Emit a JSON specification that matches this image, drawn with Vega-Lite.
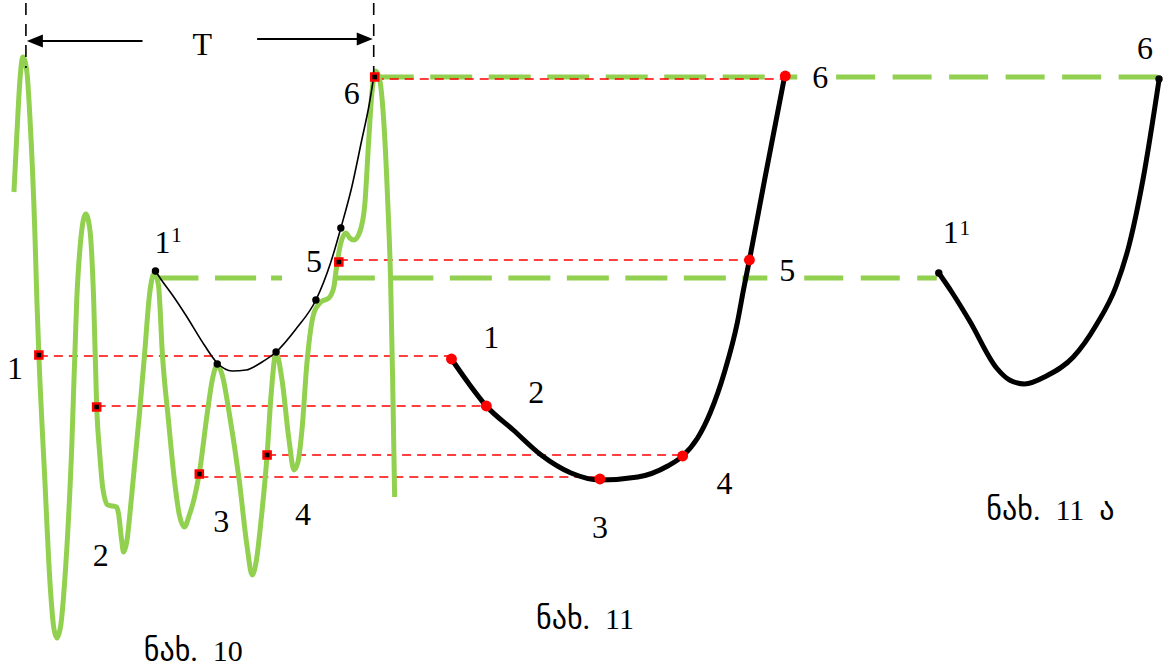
{
  "$schema": "https://vega.github.io/schema/vega-lite/v6.json",
  "width": 1169,
  "height": 671,
  "padding": 0,
  "autosize": {"type": "fit", "contains": "padding"},
  "background": "white",
  "config": {"view": {"stroke": null}},
  "datasets": {
    "gdashA": [
      {"x": 373, "x2": 800, "y": 77},
      {"x": 157, "x2": 257, "y": 278},
      {"x": 334, "x2": 770, "y": 278}
    ],
    "gdashB": [
      {"x": 839, "x2": 1163, "y": 77},
      {"x": 807, "x2": 940, "y": 278}
    ],
    "gsolid": [
      {"x": 272, "x2": 283, "y": 278}
    ],
    "rdash": [
      {"x": 39, "x2": 452, "y": 356},
      {"x": 97, "x2": 487, "y": 406},
      {"x": 200, "x2": 601, "y": 477},
      {"x": 268, "x2": 685, "y": 455},
      {"x": 340, "x2": 752, "y": 260},
      {"x": 376, "x2": 788, "y": 79}
    ],
    "wave": [
      {"x": 14, "y": 192}, {"x": 17, "y": 133}, {"x": 20, "y": 80}, {"x": 23, "y": 57}, {"x": 27, "y": 72},
      {"x": 30, "y": 117}, {"x": 35, "y": 233}, {"x": 37, "y": 300}, {"x": 39, "y": 355}, {"x": 45, "y": 480},
      {"x": 50, "y": 580}, {"x": 54, "y": 628}, {"x": 57, "y": 638}, {"x": 61, "y": 625}, {"x": 65, "y": 580},
      {"x": 72, "y": 447}, {"x": 77, "y": 300}, {"x": 81, "y": 240}, {"x": 86, "y": 214}, {"x": 90, "y": 228},
      {"x": 94, "y": 300}, {"x": 97, "y": 407}, {"x": 100, "y": 453}, {"x": 103, "y": 487}, {"x": 108, "y": 505},
      {"x": 113, "y": 506}, {"x": 117, "y": 507}, {"x": 119, "y": 514}, {"x": 122, "y": 540}, {"x": 124, "y": 552},
      {"x": 127, "y": 543}, {"x": 132, "y": 497}, {"x": 140, "y": 413}, {"x": 145, "y": 355}, {"x": 150, "y": 295},
      {"x": 155, "y": 273}, {"x": 159, "y": 285}, {"x": 163, "y": 355}, {"x": 169, "y": 420}, {"x": 175, "y": 480},
      {"x": 180, "y": 515}, {"x": 185, "y": 527}, {"x": 190, "y": 515}, {"x": 195, "y": 498}, {"x": 200, "y": 473},
      {"x": 208, "y": 413}, {"x": 213, "y": 380}, {"x": 218, "y": 365}, {"x": 223, "y": 375}, {"x": 230, "y": 413},
      {"x": 240, "y": 480}, {"x": 248, "y": 547}, {"x": 253, "y": 575}, {"x": 257, "y": 562}, {"x": 262, "y": 520},
      {"x": 268, "y": 455}, {"x": 272, "y": 395}, {"x": 277, "y": 353}, {"x": 283, "y": 380}, {"x": 290, "y": 440},
      {"x": 295, "y": 470}, {"x": 299, "y": 462}, {"x": 303, "y": 430}, {"x": 308, "y": 363}, {"x": 315, "y": 313},
      {"x": 322, "y": 302}, {"x": 330, "y": 298}, {"x": 335, "y": 287}, {"x": 338, "y": 265}, {"x": 342, "y": 243},
      {"x": 347, "y": 233}, {"x": 351, "y": 238}, {"x": 355, "y": 240}, {"x": 361, "y": 232}, {"x": 366, "y": 205},
      {"x": 370, "y": 140}, {"x": 373, "y": 95}, {"x": 377, "y": 71}, {"x": 381, "y": 80}, {"x": 385, "y": 120},
      {"x": 389, "y": 200}, {"x": 392, "y": 283}, {"x": 394, "y": 380}, {"x": 396, "y": 497}
    ],
    "curves": [
      {"s": "a", "x": 156, "y": 271}, {"s": "a", "x": 162, "y": 280}, {"s": "a", "x": 173, "y": 295},
      {"s": "a", "x": 187, "y": 316}, {"s": "a", "x": 205, "y": 345}, {"s": "a", "x": 218, "y": 363},
      {"s": "a", "x": 233, "y": 371}, {"s": "a", "x": 247, "y": 370}, {"s": "a", "x": 263, "y": 362},
      {"s": "a", "x": 277, "y": 352}, {"s": "a", "x": 297, "y": 329}, {"s": "a", "x": 317, "y": 300},
      {"s": "a", "x": 332, "y": 262}, {"s": "a", "x": 342, "y": 228}, {"s": "a", "x": 353, "y": 187},
      {"s": "a", "x": 363, "y": 140}, {"s": "a", "x": 370, "y": 107}, {"s": "a", "x": 375, "y": 77}
    ],
    "thick": [
      {"s": "b", "x": 453, "y": 359}, {"s": "b", "x": 470, "y": 383}, {"s": "b", "x": 488, "y": 406},
      {"s": "b", "x": 515, "y": 430}, {"s": "b", "x": 543, "y": 455}, {"s": "b", "x": 573, "y": 473},
      {"s": "b", "x": 602, "y": 480}, {"s": "b", "x": 640, "y": 477}, {"s": "b", "x": 670, "y": 466},
      {"s": "b", "x": 685, "y": 456}, {"s": "b", "x": 700, "y": 438}, {"s": "b", "x": 713, "y": 412},
      {"s": "b", "x": 727, "y": 372}, {"s": "b", "x": 740, "y": 322}, {"s": "b", "x": 746, "y": 290},
      {"s": "b", "x": 752, "y": 260}, {"s": "b", "x": 767, "y": 181}, {"s": "b", "x": 787, "y": 78},
      {"s": "c", "x": 942, "y": 273}, {"s": "c", "x": 955, "y": 292}, {"s": "c", "x": 973, "y": 321},
      {"s": "c", "x": 1000, "y": 368}, {"s": "c", "x": 1013, "y": 380}, {"s": "c", "x": 1028, "y": 384},
      {"s": "c", "x": 1050, "y": 376}, {"s": "c", "x": 1077, "y": 357}, {"s": "c", "x": 1100, "y": 325},
      {"s": "c", "x": 1120, "y": 286}, {"s": "c", "x": 1133, "y": 245}, {"s": "c", "x": 1147, "y": 179},
      {"s": "c", "x": 1163, "y": 80}
    ],
    "vdash": [
      {"x": 26, "y": 3, "y2": 68},
      {"x": 375, "y": 3, "y2": 76}
    ],
    "arrowline": [
      {"x": 30, "x2": 143, "y": 41},
      {"x": 258, "x2": 370, "y": 39}
    ],
    "arrowheads": [
      {"x": 35, "y": 41, "dir": "left"},
      {"x": 366, "y": 39, "dir": "right"}
    ],
    "redsq": [
      {"x": 39, "y": 355}, {"x": 97, "y": 407}, {"x": 200, "y": 474},
      {"x": 268, "y": 455}, {"x": 340, "y": 262}, {"x": 376, "y": 77}
    ],
    "blackdots": [
      {"x": 156, "y": 271}, {"x": 218, "y": 364}, {"x": 277, "y": 352},
      {"x": 317, "y": 300}, {"x": 342, "y": 228}, {"x": 942, "y": 273}, {"x": 1163, "y": 79}
    ],
    "reddots": [
      {"x": 453, "y": 359}, {"x": 488, "y": 406}, {"x": 602, "y": 479},
      {"x": 685, "y": 456}, {"x": 752, "y": 260}, {"x": 788, "y": 76}
    ],
    "labels": [
      {"x": 203, "y": 45, "t": "T"},
      {"x": 15, "y": 369, "t": "1"},
      {"x": 101, "y": 556, "t": "2"},
      {"x": 222, "y": 522, "t": "3"},
      {"x": 304, "y": 515, "t": "4"},
      {"x": 315, "y": 262, "t": "5"},
      {"x": 353, "y": 94, "t": "6"},
      {"x": 163, "y": 243, "t": "1"},
      {"x": 493, "y": 338, "t": "1"},
      {"x": 538, "y": 393, "t": "2"},
      {"x": 602, "y": 528, "t": "3"},
      {"x": 727, "y": 484, "t": "4"},
      {"x": 790, "y": 271, "t": "5"},
      {"x": 823, "y": 78, "t": "6"},
      {"x": 954, "y": 233, "t": "1"},
      {"x": 1149, "y": 49, "t": "6"}
    ],
    "sups": [
      {"x": 177, "y": 236, "t": "1"},
      {"x": 968, "y": 229, "t": "1"}
    ],
    "captions": [
      {"x": 194, "y": 652, "t": "ნახ.\u00a0\u00a010"},
      {"x": 587, "y": 620, "t": "ნახ.\u00a0\u00a011"},
      {"x": 1054, "y": 511, "t": "ნახ.\u00a0\u00a011\u00a0\u00a0ა"}
    ]
  },
  "encoding": {
    "x": {"field": "x", "type": "quantitative", "scale": {"domain": [0, 1169], "nice": false, "zero": false}, "axis": null},
    "y": {"field": "y", "type": "quantitative", "scale": {"domain": [0, 671], "nice": false, "zero": false, "reverse": true}, "axis": null}
  },
  "layer": [
    {
      "data": {"name": "gdashA"},
      "mark": {"type": "rule", "color": "#92d050", "strokeWidth": 5, "strokeDash": [42, 16.5]},
      "encoding": {"x2": {"field": "x2"}}
    },
    {
      "data": {"name": "gdashB"},
      "mark": {"type": "rule", "color": "#92d050", "strokeWidth": 5, "strokeDash": [39, 17.5]},
      "encoding": {"x2": {"field": "x2"}}
    },
    {
      "data": {"name": "gsolid"},
      "mark": {"type": "rule", "color": "#92d050", "strokeWidth": 5},
      "encoding": {"x2": {"field": "x2"}}
    },
    {
      "data": {"name": "rdash"},
      "mark": {"type": "rule", "color": "#ff0000", "strokeWidth": 1.5, "strokeDash": [9, 6]},
      "encoding": {"x2": {"field": "x2"}}
    },
    {
      "data": {"name": "wave"},
      "mark": {"type": "line", "color": "#92d050", "strokeWidth": 5, "interpolate": "monotone"},
      "encoding": {}
    },
    {
      "data": {"name": "curves"},
      "mark": {"type": "line", "color": "black", "strokeWidth": 1.6, "interpolate": "monotone"},
      "encoding": {"detail": {"field": "s"}}
    },
    {
      "data": {"name": "thick"},
      "mark": {"type": "line", "color": "black", "strokeWidth": 5, "interpolate": "monotone"},
      "encoding": {"detail": {"field": "s"}}
    },
    {
      "data": {"name": "vdash"},
      "mark": {"type": "rule", "color": "black", "strokeWidth": 1.6, "strokeDash": [12, 9]},
      "encoding": {"y2": {"field": "y2"}}
    },
    {
      "data": {"name": "arrowline"},
      "mark": {"type": "rule", "color": "black", "strokeWidth": 2.2},
      "encoding": {"x2": {"field": "x2"}}
    },
    {
      "data": {"name": "arrowheads"},
      "transform": [{"filter": "datum.dir === 'left'"}],
      "mark": {"type": "point", "shape": "M -1 0 L 1 -0.8 L 1 0.8 Z", "size": 256, "filled": true, "color": "black", "opacity": 1}
    },
    {
      "data": {"name": "arrowheads"},
      "transform": [{"filter": "datum.dir === 'right'"}],
      "mark": {"type": "point", "shape": "M 1 0 L -1 -0.8 L -1 0.8 Z", "size": 256, "filled": true, "color": "black", "opacity": 1}
    },
    {
      "data": {"name": "redsq"},
      "mark": {"type": "point", "shape": "square", "size": 50, "filled": true, "fill": "black", "stroke": "#ff0000", "strokeWidth": 2.5, "opacity": 1}
    },
    {
      "data": {"name": "blackdots"},
      "mark": {"type": "point", "shape": "circle", "size": 55, "filled": true, "color": "black", "opacity": 1}
    },
    {
      "data": {"name": "reddots"},
      "mark": {"type": "point", "shape": "circle", "size": 120, "filled": true, "color": "#ff0000", "opacity": 1}
    },
    {
      "data": {"name": "labels"},
      "mark": {"type": "text", "font": "'Times New Roman', 'Liberation Serif', serif", "fontSize": 32, "color": "black", "align": "center", "baseline": "middle"},
      "encoding": {"text": {"field": "t"}}
    },
    {
      "data": {"name": "sups"},
      "mark": {"type": "text", "font": "'Times New Roman', 'Liberation Serif', serif", "fontSize": 21, "color": "black", "align": "center", "baseline": "middle"},
      "encoding": {"text": {"field": "t"}}
    },
    {
      "data": {"name": "captions"},
      "mark": {"type": "text", "font": "'Times New Roman', 'Liberation Serif', 'DejaVu Sans', serif", "fontSize": 30, "color": "black", "align": "center", "baseline": "middle"},
      "encoding": {"text": {"field": "t"}}
    }
  ]
}
